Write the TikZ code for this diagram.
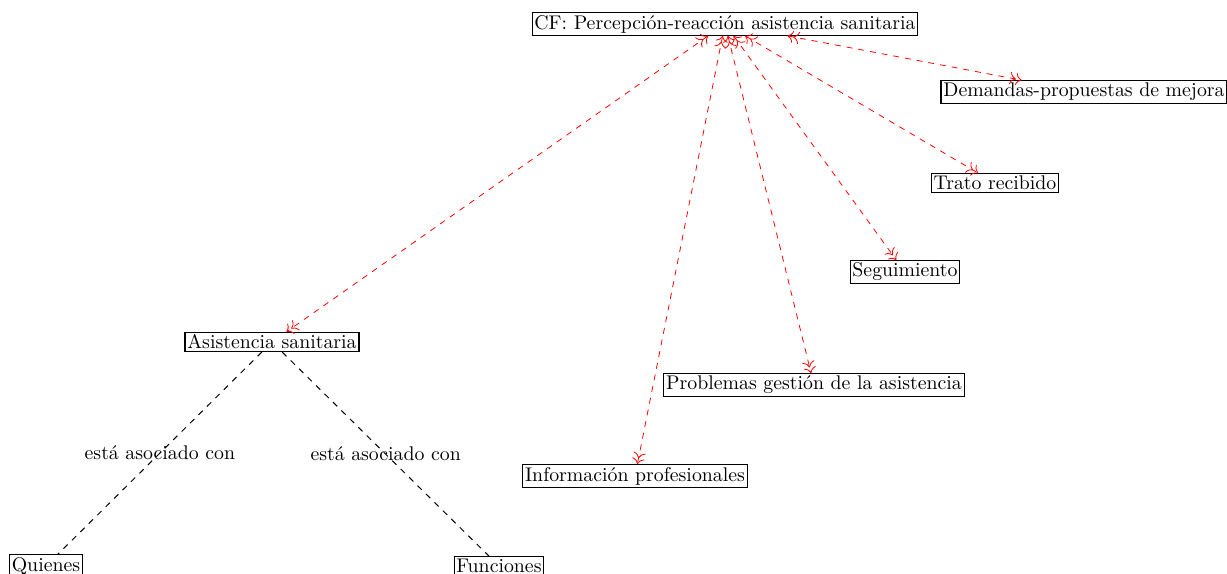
\documentclass[tikz,border=0pt]{standalone}
\usetikzlibrary{arrows.meta}
\begin{document}
\begin{tikzpicture}[x=0.505pt, y=-0.505pt,
  concept/.style={draw, inner sep=1.2pt, line width=0.55pt, font=\normalsize},
  relation/.style={red, dashed, <<->>, >={To[scale=1.2]}, line width=0.4pt},
  assoc/.style={black, dashed, line width=0.5pt},
  assoclabel/.style={font=\normalsize, inner sep=1pt}]
  \useasboundingbox (0,0) rectangle (1227,574);

  % concepts
  \node[concept] (cf)   at (725,24)  {CF: Percepción-reacción asistencia sanitaria};
  \node[concept] (dem)  at (1084,92) {Demandas-propuestas de mejora};
  \node[concept] (trato) at (995,183) {Trato recibido};
  \node[concept] (seg)  at (905,272) {Seguimiento};
  \node[concept] (prob) at (814,385) {Problemas gestión de la asistencia};
  \node[concept] (info) at (635,476) {Información profesionales};
  \node[concept] (asis) at (272,342) {Asistencia sanitaria};
  \node[concept] (qui)  at (46,566)  {Quienes};
  \node[concept] (fun)  at (499,566) {Funciones};

  % relations of the central code
  \draw[relation] (cf) -- (dem);
  \draw[relation] (cf) -- (trato);
  \draw[relation] (cf) -- (seg);
  \draw[relation] (cf) -- (prob);
  \draw[relation] (cf) -- (info);
  \draw[relation] (cf) -- (asis);

  % associations
  \draw[assoc] (asis) -- node[assoclabel] {está asociado con} (qui);
  \draw[assoc] (asis) -- node[assoclabel] {está asociado con} (fun);
\end{tikzpicture}
\end{document}
